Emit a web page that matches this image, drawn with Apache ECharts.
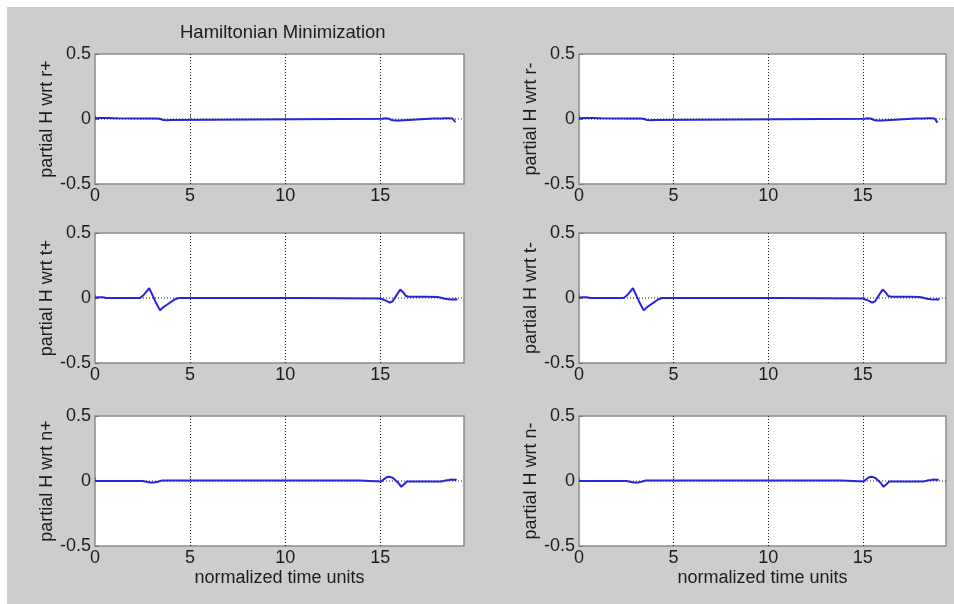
<!DOCTYPE html>
<html>
<head>
<meta charset="utf-8">
<script src="https://cdn.jsdelivr.net/npm/echarts@6/dist/echarts.min.js"></script>
<style>
  html, body { margin: 0; padding: 0; background: #ffffff; }
  #chart { width: 954px; height: 604px; }
</style>
</head>
<body>
<div id="chart"></div>
<script>
// Time axis ticks and limits
const xTicks = [0, 5, 10, 15];
const xMax = 19.4;
const yTicks = [-0.5, 0, 0.5];

// Reference (zero) line drawn dotted in every panel
const refTimes = [0, 19.4];
const refValues = [0, 0];

// partial H with respect to r+ / r-
const tR = [0, 0.1, 0.2, 0.3, 0.4, 0.5, 0.6, 0.7, 0.8, 0.9, 1.0, 1.1, 1.2, 1.3,
  2.6, 2.7, 2.8, 2.9, 3.0, 3.1, 3.2, 3.3, 3.4, 3.5, 3.6, 3.8, 3.95, 4.05,
  15.1, 15.25, 15.4, 15.5, 15.6, 15.75, 16.0, 16.25, 16.35,
  17.8, 17.9, 18.0, 18.1, 18.2, 18.3, 18.4, 18.5, 18.6, 18.7, 18.8, 18.9, 18.95];
const rPlusVals = [0.006, 0.002, 0.007, 0.003, 0.008, 0.003, 0.007, 0.002, 0.007, 0.003, 0.006, 0.002, 0.005, 0,
  0.003, 0.007, 0.003, 0.008, 0.004, 0.007, 0.004, 0.006, 0.002, -0.004, -0.008, -0.01, -0.008, 0,
  0.002, 0.006, 0.004, 0, -0.008, -0.011, -0.011, -0.009, 0,
  0.003, 0.006, 0.003, 0.008, 0.004, 0.008, 0.005, 0.009, 0.006, 0.008, 0.004, -0.005, -0.025];
const rMinusVals = [0.006, 0.002, 0.007, 0.003, 0.008, 0.003, 0.007, 0.002, 0.007, 0.003, 0.006, 0.002, 0.005, 0,
  0.003, 0.007, 0.003, 0.008, 0.004, 0.007, 0.004, 0.006, 0.002, -0.004, -0.008, -0.01, -0.008, 0,
  0.002, 0.006, 0.004, 0, -0.008, -0.011, -0.011, -0.009, 0,
  0.003, 0.006, 0.003, 0.008, 0.004, 0.008, 0.005, 0.009, 0.006, 0.008, 0.004, -0.006, -0.028];

// partial H with respect to t+ / t-
const tT = [0, 0.1, 0.2, 0.3, 0.4, 0.5, 0.6, 2.35, 2.5, 2.65, 2.85, 3.0, 3.2, 3.42, 3.6, 3.8, 4.0, 4.2, 4.4,
  10.8, 10.85, 15.0, 15.1, 15.3, 15.5, 15.65, 15.85, 16.05, 16.2, 16.35, 16.5,
  17.5, 18.0, 18.2, 18.4, 18.6, 18.8, 19.0, 19.05];
const tPlusVals = [0.004, 0.001, 0.005, 0.002, 0.005, 0.002, 0, 0, 0.015, 0.04, 0.075, 0.03, -0.035, -0.095, -0.07, -0.05, -0.03, -0.01, 0,
  0, -0.004, -0.004, -0.01, -0.02, -0.035, -0.025, 0.02, 0.065, 0.045, 0.015, 0.01,
  0.01, 0.008, 0.002, -0.006, -0.01, -0.012, -0.01, -0.012];
const tMinusVals = [0.004, 0.001, 0.005, 0.002, 0.005, 0.002, 0, 0, 0.015, 0.04, 0.075, 0.03, -0.035, -0.095, -0.07, -0.05, -0.03, -0.01, 0,
  0, -0.004, -0.004, -0.01, -0.02, -0.035, -0.025, 0.02, 0.065, 0.045, 0.015, 0.01,
  0.01, 0.008, 0.002, -0.006, -0.01, -0.012, -0.01, -0.012];

// partial H with respect to n+ / n-
const tN = [0, 2.5, 2.7, 2.9, 3.1, 3.3, 3.5, 13.9, 14.0, 15.05, 15.2, 15.35, 15.5, 15.65, 15.8, 15.95, 16.1, 16.25, 16.4,
  18.2, 18.4, 18.6, 18.75, 18.85, 18.95, 19.0];
const nPlusVals = [0, 0, -0.006, -0.012, -0.012, -0.006, 0.003, 0.003, -0.003, -0.003, 0.015, 0.03, 0.032, 0.025, 0.005, -0.015, -0.045, -0.025, -0.004,
  -0.004, 0.003, 0.008, 0.012, 0.025, 0.008, 0.015];
const nMinusVals = [0, 0, -0.006, -0.012, -0.012, -0.006, 0.003, 0.003, -0.003, -0.003, 0.015, 0.03, 0.032, 0.025, 0.005, -0.015, -0.045, -0.025, -0.004,
  -0.004, 0.003, 0.008, 0.012, 0.025, 0.008, 0.015];

const panelNames = ['partial H wrt r+', 'partial H wrt r-', 'partial H wrt t+', 'partial H wrt t-', 'partial H wrt n+', 'partial H wrt n-'];
const panelTimes = [tR, tR, tT, tT, tN, tN];
const panelValues = [rPlusVals, rMinusVals, tPlusVals, tMinusVals, nPlusVals, nMinusVals];

const FONT = '"Liberation Sans", Arial, Helvetica, sans-serif';
const TEXT = '#1c1c1c';
const colLeft = [95, 579];
const colWidth = [369, 367];
const rowTop = [54, 233, 416];
const rowHeight = 130;

const zip = (a, b) => a.map((x, i) => [x, b[i]]);

const grids = [], xAxes = [], yAxes = [], series = [];
panelNames.forEach((name, i) => {
  const col = i % 2, row = Math.floor(i / 2);
  grids.push({
    left: colLeft[col], top: rowTop[row], width: colWidth[col], height: rowHeight,
    show: true, backgroundColor: '#ffffff', borderColor: '#8c8c8c', borderWidth: 1.5
  });
  xAxes.push({
    type: 'value', gridIndex: i, min: 0, max: xMax, interval: 5,
    axisLine: { show: false },
    axisTick: { show: true, inside: true, length: 4, lineStyle: { color: '#777' } },
    axisLabel: {
      fontSize: 18, color: TEXT, fontFamily: FONT, margin: 3,
      showMaxLabel: false,
      formatter: v => (xTicks.indexOf(v) >= 0 ? String(v) : '')
    },
    splitLine: {
      show: true, showMinLine: false, showMaxLine: false,
      lineStyle: { color: '#222', width: 1, type: [1, 2] }
    },
    name: row === 2 ? 'normalized time units' : '',
    nameLocation: 'middle', nameGap: 23,
    nameTextStyle: { fontSize: 18, color: TEXT, fontFamily: FONT }
  });
  yAxes.push({
    type: 'value', gridIndex: i, min: yTicks[0], max: yTicks[2], interval: 0.5,
    axisLine: { show: false },
    axisTick: { show: true, inside: true, length: 4, lineStyle: { color: '#777' } },
    axisLabel: { fontSize: 18, color: TEXT, fontFamily: FONT, margin: 4 },
    splitLine: { show: false },
    name: name, nameLocation: 'middle', nameRotate: 90, nameGap: 37,
    nameTextStyle: { fontSize: 18, color: TEXT, fontFamily: FONT }
  });
  series.push({
    type: 'line', xAxisIndex: i, yAxisIndex: i, showSymbol: false, z: 2,
    data: zip(refTimes, refValues),
    lineStyle: { color: '#222', width: 1, type: [1, 2] }
  });
  series.push({
    type: 'line', xAxisIndex: i, yAxisIndex: i, showSymbol: false, z: 3,
    data: zip(panelTimes[i], panelValues[i]),
    lineStyle: { color: '#2626de', width: 2 }
  });
});

const chart = echarts.init(document.getElementById('chart'), null, { renderer: 'canvas' });
chart.setOption({
  animation: false,
  backgroundColor: '#ffffff',
  graphic: [{
    type: 'rect', z: -10, silent: true,
    shape: { x: 7, y: 7, width: 947, height: 597 },
    style: { fill: '#cdcdcd' }
  }],
  title: {
    text: 'Hamiltonian Minimization',
    left: 175, top: 18,
    textStyle: { fontSize: 18.5, fontWeight: 'normal', color: TEXT, fontFamily: FONT }
  },
  grid: grids,
  xAxis: xAxes,
  yAxis: yAxes,
  series: series
});
</script>
</body>
</html>
